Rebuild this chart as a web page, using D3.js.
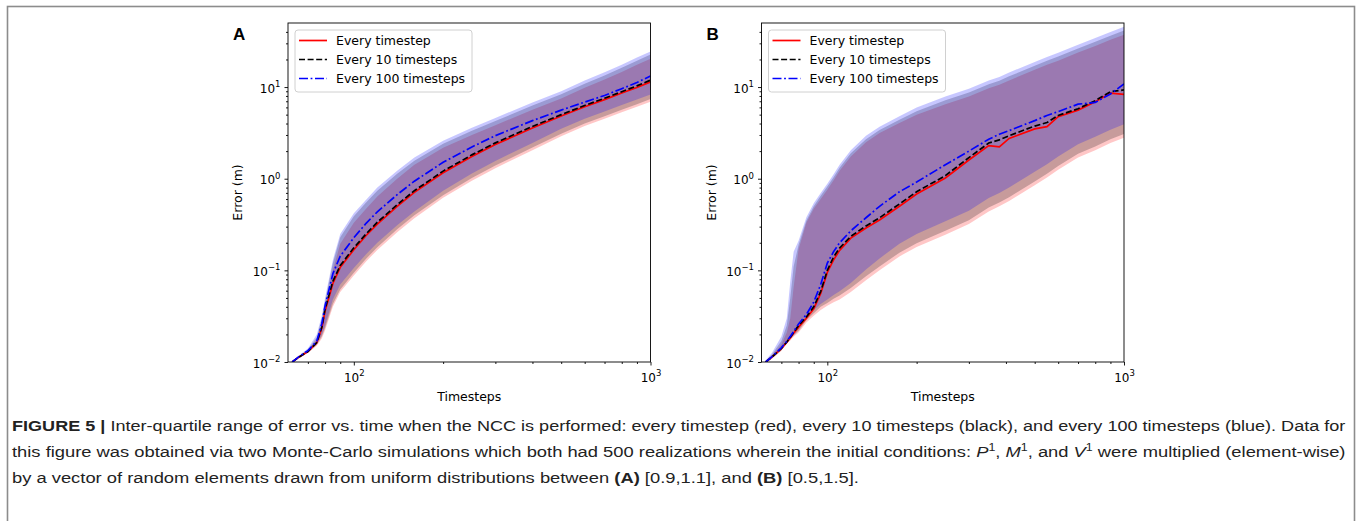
<!DOCTYPE html>
<meta charset="utf-8">
<script src="https://d3js.org/d3.v7.min.js"></script>
<style>
  body { margin: 0; background: #fff; }
  svg { display: block; }
  text { font-family: "DejaVu Sans", sans-serif; fill: #000; }
  .cap { font-family: "Liberation Sans", Arial, sans-serif; font-size: 15.5px; fill: #222; }
</style>
<body>
<svg width=1358 height=521></svg>
<script>
// ---- data (timestep, error in m) ----
var seriesNames = ["Every timestep", "Every 10 timesteps", "Every 100 timesteps"];
var xMajor = [100, 1000];
var xMajorLabels = ["2", "3"];
var yMajor = [0.01, 0.1, 1, 10];
var yMajorLabels = ["\u22122", "\u22121", "0", "1"];

// panel A
var tA = [62, 65, 70, 75, 78, 80, 85, 90, 100, 110, 120, 140, 160, 200, 250, 300, 400, 500, 600, 700, 800, 900, 1000];
var medRedA   = [0.0100, 0.0112, 0.0130, 0.0162, 0.0235, 0.036, 0.072, 0.108, 0.168, 0.24, 0.32, 0.50, 0.71, 1.16, 1.75, 2.36, 3.58, 4.84, 6.1, 7.3, 8.6, 9.9, 11.4];
var medBlackA = [0.0100, 0.0112, 0.0130, 0.0163, 0.0240, 0.038, 0.076, 0.113, 0.176, 0.25, 0.335, 0.52, 0.74, 1.21, 1.82, 2.46, 3.72, 5.0, 6.3, 7.55, 8.9, 10.3, 11.9];
var medBlueA  = [0.0100, 0.0113, 0.0133, 0.0168, 0.026, 0.041, 0.092, 0.143, 0.227, 0.326, 0.435, 0.67, 0.94, 1.51, 2.22, 2.95, 4.3, 5.6, 6.85, 8.1, 9.6, 11.2, 13.2];
var hiRedA    = [0.0101, 0.0113, 0.0134, 0.0175, 0.026, 0.038, 0.10, 0.195, 0.33, 0.47, 0.64, 1.0, 1.42, 2.17, 3.0, 3.83, 5.67, 7.5, 9.83, 12.1, 14.6, 17.5, 20.4];
var hiBlackA  = [0.0101, 0.0114, 0.0136, 0.0186, 0.0296, 0.046, 0.12, 0.23, 0.39, 0.55, 0.74, 1.13, 1.57, 2.4, 3.33, 4.26, 6.3, 8.33, 10.9, 13.4, 16.2, 19.4, 22.7];
var hiBlueA   = [0.0102, 0.0116, 0.0140, 0.020, 0.032, 0.05, 0.13, 0.25, 0.42, 0.59, 0.80, 1.22, 1.70, 2.6, 3.6, 4.6, 6.8, 9.0, 11.8, 14.5, 17.5, 21.0, 24.5];
var loRedA    = [0.0098, 0.0109, 0.0125, 0.0150, 0.018, 0.022, 0.040, 0.058, 0.088, 0.125, 0.167, 0.26, 0.37, 0.62, 0.95, 1.30, 2.05, 2.9, 3.75, 4.5, 5.3, 6.1, 6.9];
var loBlackA  = [0.0099, 0.0110, 0.0127, 0.0154, 0.0190, 0.0235, 0.043, 0.062, 0.094, 0.134, 0.179, 0.28, 0.40, 0.66, 1.02, 1.39, 2.19, 3.1, 4.0, 4.8, 5.67, 6.5, 7.4];
var loBlueA   = [0.0099, 0.0111, 0.0128, 0.0158, 0.020, 0.025, 0.048, 0.070, 0.106, 0.15, 0.20, 0.31, 0.44, 0.74, 1.14, 1.56, 2.46, 3.5, 4.5, 5.4, 6.36, 7.3, 8.3];

// panel B
var tB = [62, 65, 70, 73, 75, 77, 80, 85, 90, 95, 100, 105, 110, 120, 135, 150, 175, 200, 250, 300, 350, 380, 410, 500, 550, 600, 700, 800, 900, 1000];
var medRedB   = [0.0100, 0.0113, 0.0140, 0.0163, 0.0183, 0.0206, 0.024, 0.030, 0.038, 0.056, 0.095, 0.13, 0.165, 0.225, 0.29, 0.355, 0.50, 0.68, 1.02, 1.60, 2.30, 2.22, 2.75, 3.50, 3.70, 4.75, 5.6, 6.9, 8.6, 8.3];
var medBlackB = [0.0100, 0.0113, 0.0141, 0.0165, 0.0186, 0.021, 0.025, 0.031, 0.040, 0.059, 0.100, 0.14, 0.175, 0.235, 0.305, 0.375, 0.53, 0.72, 1.08, 1.70, 2.45, 2.65, 2.95, 3.75, 4.1, 4.9, 5.8, 7.1, 8.9, 9.3];
var medBlueB  = [0.0100, 0.0114, 0.0143, 0.0168, 0.019, 0.0215, 0.026, 0.033, 0.045, 0.070, 0.12, 0.16, 0.20, 0.27, 0.375, 0.50, 0.72, 0.92, 1.42, 2.0, 2.70, 3.05, 3.35, 4.3, 4.9, 5.4, 6.5, 6.8, 8.4, 10.8];
var hiRedB    = [0.0102, 0.0117, 0.0155, 0.021, 0.03, 0.066, 0.17, 0.33, 0.47, 0.60, 0.76, 0.96, 1.22, 1.75, 2.5, 3.15, 4.05, 5.0, 6.5, 7.9, 9.7, 10.6, 11.8, 15.4, 17.5, 19.4, 23.8, 28.1, 32.8, 37.3];
var hiBlackB  = [0.0103, 0.0120, 0.017, 0.025, 0.05, 0.11, 0.19, 0.35, 0.50, 0.65, 0.82, 1.04, 1.32, 1.9, 2.7, 3.4, 4.4, 5.45, 7.2, 8.7, 10.7, 11.7, 13.1, 17.1, 19.4, 21.5, 26.4, 31.2, 36.4, 41.4];
var hiBlueB   = [0.0105, 0.0125, 0.019, 0.030, 0.075, 0.16, 0.21, 0.38, 0.54, 0.70, 0.88, 1.12, 1.42, 2.05, 2.95, 3.7, 4.8, 6.0, 7.9, 9.6, 11.8, 12.9, 14.4, 18.8, 21.3, 23.7, 29.0, 34.3, 40, 45.5];
var loRedB    = [0.0098, 0.0108, 0.0132, 0.0160, 0.0172, 0.0188, 0.021, 0.027, 0.032, 0.037, 0.041, 0.045, 0.048, 0.058, 0.078, 0.100, 0.142, 0.18, 0.245, 0.32, 0.44, 0.50, 0.57, 0.85, 1.03, 1.25, 1.7, 2.05, 2.45, 2.8];
var loBlackB  = [0.0099, 0.0109, 0.0134, 0.0163, 0.0177, 0.0194, 0.0218, 0.0285, 0.034, 0.040, 0.044, 0.049, 0.053, 0.064, 0.086, 0.11, 0.156, 0.198, 0.27, 0.352, 0.484, 0.55, 0.627, 0.935, 1.13, 1.375, 1.87, 2.25, 2.7, 3.08];
var loBlueB   = [0.0099, 0.0110, 0.0136, 0.0166, 0.0180, 0.0198, 0.0231, 0.031, 0.037, 0.043, 0.048, 0.054, 0.059, 0.073, 0.102, 0.135, 0.195, 0.25, 0.343, 0.448, 0.616, 0.70, 0.80, 1.19, 1.44, 1.75, 2.38, 2.87, 3.43, 3.92];

var colors = ["#ff0000", "#000000", "#0000ff"];
var dashes = [null, "6,2.6", "9,2.6,1.8,2.6"];

var svg = d3.select("svg");
var plotTop = 23, plotBottom = 362;

// outer frame of the figure
svg.append("rect")
    .attr("x", 7.5).attr("y", 6.5)
    .attr("width", 1347).attr("height", 540)
    .attr("fill", "none").attr("stroke", "#8c8c8c").attr("stroke-width", 1.6);

var panels = [
    {letter: "A", left: 288, right: 650.5, time: tA,
     med: [medRedA, medBlackA, medBlueA], lo: [loRedA, loBlackA, loBlueA], hi: [hiRedA, hiBlackA, hiBlueA]},
    {letter: "B", left: 761.5, right: 1124, time: tB,
     med: [medRedB, medBlackB, medBlueB], lo: [loRedB, loBlackB, loBlueB], hi: [hiRedB, hiBlackB, hiBlueB]}
];

function powLabel(sel, exps) {
    sel.each(function(d, i) {
        var t = d3.select(this);
        t.text("");
        t.append("tspan").text("10");
        t.append("tspan").attr("dy", -5.5).style("font-size", "8.5px").text(exps[i]);
    });
}

var noLabel = function() { return ""; };

panels.forEach(function(p) {
    var x = d3.scaleLog().domain([60, 1000]).range([p.left, p.right]);
    var y = d3.scaleLog().domain([0.01, 50]).range([plotBottom, plotTop]);

    svg.append("clipPath").attr("id", "clip" + p.letter)
        .append("rect")
        .attr("x", p.left).attr("y", plotTop)
        .attr("width", p.right - p.left).attr("height", plotBottom - plotTop);

    var plot = svg.append("g").attr("clip-path", "url(#clip" + p.letter + ")");

    // inter-quartile bands
    for (var s = 0; s < 3; s++) {
        var lo = p.lo[s], hi = p.hi[s];
        var area = d3.area()
            .x(function(d, i) { return x(p.time[i]); })
            .y0(function(d, i) { return y(lo[i]); })
            .y1(function(d, i) { return y(hi[i]); });
        plot.append("path")
            .attr("d", area(p.time))
            .attr("fill", colors[s])
            .attr("fill-opacity", 0.22);
    }

    // median lines
    for (var s = 0; s < 3; s++) {
        var line = d3.line()
            .x(function(d, i) { return x(p.time[i]); })
            .y(function(d) { return y(d); });
        plot.append("path")
            .attr("d", line(p.med[s]))
            .attr("fill", "none")
            .attr("stroke", colors[s])
            .attr("stroke-width", 1.7)
            .attr("stroke-dasharray", dashes[s]);
    }

    // axes
    var xMinor = x.ticks().filter(function(v) { return xMajor.indexOf(v) < 0 && v > 60; });
    var yMinor = y.ticks().filter(function(v) { return yMajor.indexOf(v) < 0 && v < 50; });

    var gxMinor = svg.append("g").attr("transform", "translate(0," + plotBottom + ")")
        .call(d3.axisBottom(x).tickValues(xMinor).tickSize(2).tickFormat(noLabel));
    var gxMajor = svg.append("g").attr("transform", "translate(0," + plotBottom + ")")
        .call(d3.axisBottom(x).tickValues(xMajor).tickSize(3.5).tickPadding(4));
    gxMajor.selectAll("text").style("font-size", "12px").attr("font-family", "DejaVu Sans").attr("dy", "1.0em");
    powLabel(gxMajor.selectAll(".tick text"), xMajorLabels);

    var gyMinor = svg.append("g").attr("transform", "translate(" + p.left + ",0)")
        .call(d3.axisLeft(y).tickValues(yMinor).tickSize(2).tickFormat(noLabel));
    var gyMajor = svg.append("g").attr("transform", "translate(" + p.left + ",0)")
        .call(d3.axisLeft(y).tickValues(yMajor).tickSize(3.5).tickPadding(4));
    gyMajor.selectAll("text").style("font-size", "12px").attr("font-family", "DejaVu Sans").attr("dy", "0.42em");
    powLabel(gyMajor.selectAll(".tick text"), yMajorLabels);

    [gxMinor, gxMajor, gyMinor, gyMajor].forEach(function(g) {
        g.select(".domain").remove();
        g.selectAll(".tick line").attr("stroke", "#000").attr("stroke-width", 0.9);
    });

    // spines
    svg.append("rect")
        .attr("x", p.left).attr("y", plotTop)
        .attr("width", p.right - p.left).attr("height", plotBottom - plotTop)
        .attr("fill", "none").attr("stroke", "#000").attr("stroke-width", 0.9);

    // axis titles
    svg.append("text")
        .attr("x", (p.left + p.right) / 2).attr("y", 401)
        .attr("text-anchor", "middle")
        .style("font-size", "12.5px")
        .text("Timesteps");
    svg.append("text")
        .attr("transform", "translate(" + (p.left - 46) + "," + ((plotTop + plotBottom) / 2) + ") rotate(-90)")
        .attr("text-anchor", "middle")
        .style("font-size", "12.5px")
        .text("Error (m)");

    // panel letter
    svg.append("text")
        .attr("x", p.left - 55).attr("y", 40)
        .style("font-family", "'Liberation Sans', Arial, sans-serif")
        .style("font-weight", "bold")
        .style("font-size", "17px")
        .text(p.letter);

    // legend
    var lx = p.left + 7, ly = 30;
    var leg = svg.append("g");
    leg.append("rect")
        .attr("x", lx).attr("y", ly).attr("width", 177).attr("height", 62)
        .attr("rx", 3)
        .attr("fill", "#fff").attr("fill-opacity", 0.85)
        .attr("stroke", "#d0d0d0").attr("stroke-width", 1);
    seriesNames.forEach(function(name, i) {
        var yy = ly + 10.5 + i * 19;
        leg.append("line")
            .attr("x1", lx + 4).attr("x2", lx + 32)
            .attr("y1", yy).attr("y2", yy)
            .attr("stroke", colors[i]).attr("stroke-width", 1.7)
            .attr("stroke-dasharray", dashes[i]);
        leg.append("text")
            .attr("x", lx + 41).attr("y", yy + 4.5)
            .style("font-size", "12.5px")
            .text(name);
    });
});

// ---- caption ----
function fitLine(t, x, width) {
    var w = t.node().getComputedTextLength();
    var k = width ? width / w : 1;
    t.attr("transform", "translate(" + x + ",0) scale(" + k + ",1)");
    return k;
}

var c1 = svg.append("text").attr("class", "cap").attr("y", 431);
c1.append("tspan").style("font-weight", "bold").text("FIGURE 5 | ");
c1.append("tspan").text("Inter-quartile range of error vs. time when the NCC is performed: every timestep (red), every 10 timesteps (black), and every 100 timesteps (blue). Data for");
fitLine(c1, 12, 1334);

var c2 = svg.append("text").attr("class", "cap").attr("y", 457);
c2.append("tspan").text("this figure was obtained via two Monte-Carlo simulations which both had 500 realizations wherein the initial conditions: ");
[["P", ", "], ["M", ", and "], ["V", " were multiplied (element-wise)"]].forEach(function(part) {
    c2.append("tspan").style("font-style", "italic").text(part[0]);
    c2.append("tspan").attr("dy", -6).style("font-size", "10.5px").text("1");
    c2.append("tspan").attr("dy", 6).text(part[1]);
});
var k2 = fitLine(c2, 12, 1335);

var c3 = svg.append("text").attr("class", "cap").attr("y", 483);
c3.append("tspan").text("by a vector of random elements drawn from uniform distributions between ");
c3.append("tspan").style("font-weight", "bold").text("(A)");
c3.append("tspan").text(" [0.9,1.1], and ");
c3.append("tspan").style("font-weight", "bold").text("(B)");
c3.append("tspan").text(" [0.5,1.5].");
c3.attr("transform", "translate(12,0) scale(" + k2 + ",1)");
</script>
</body>
